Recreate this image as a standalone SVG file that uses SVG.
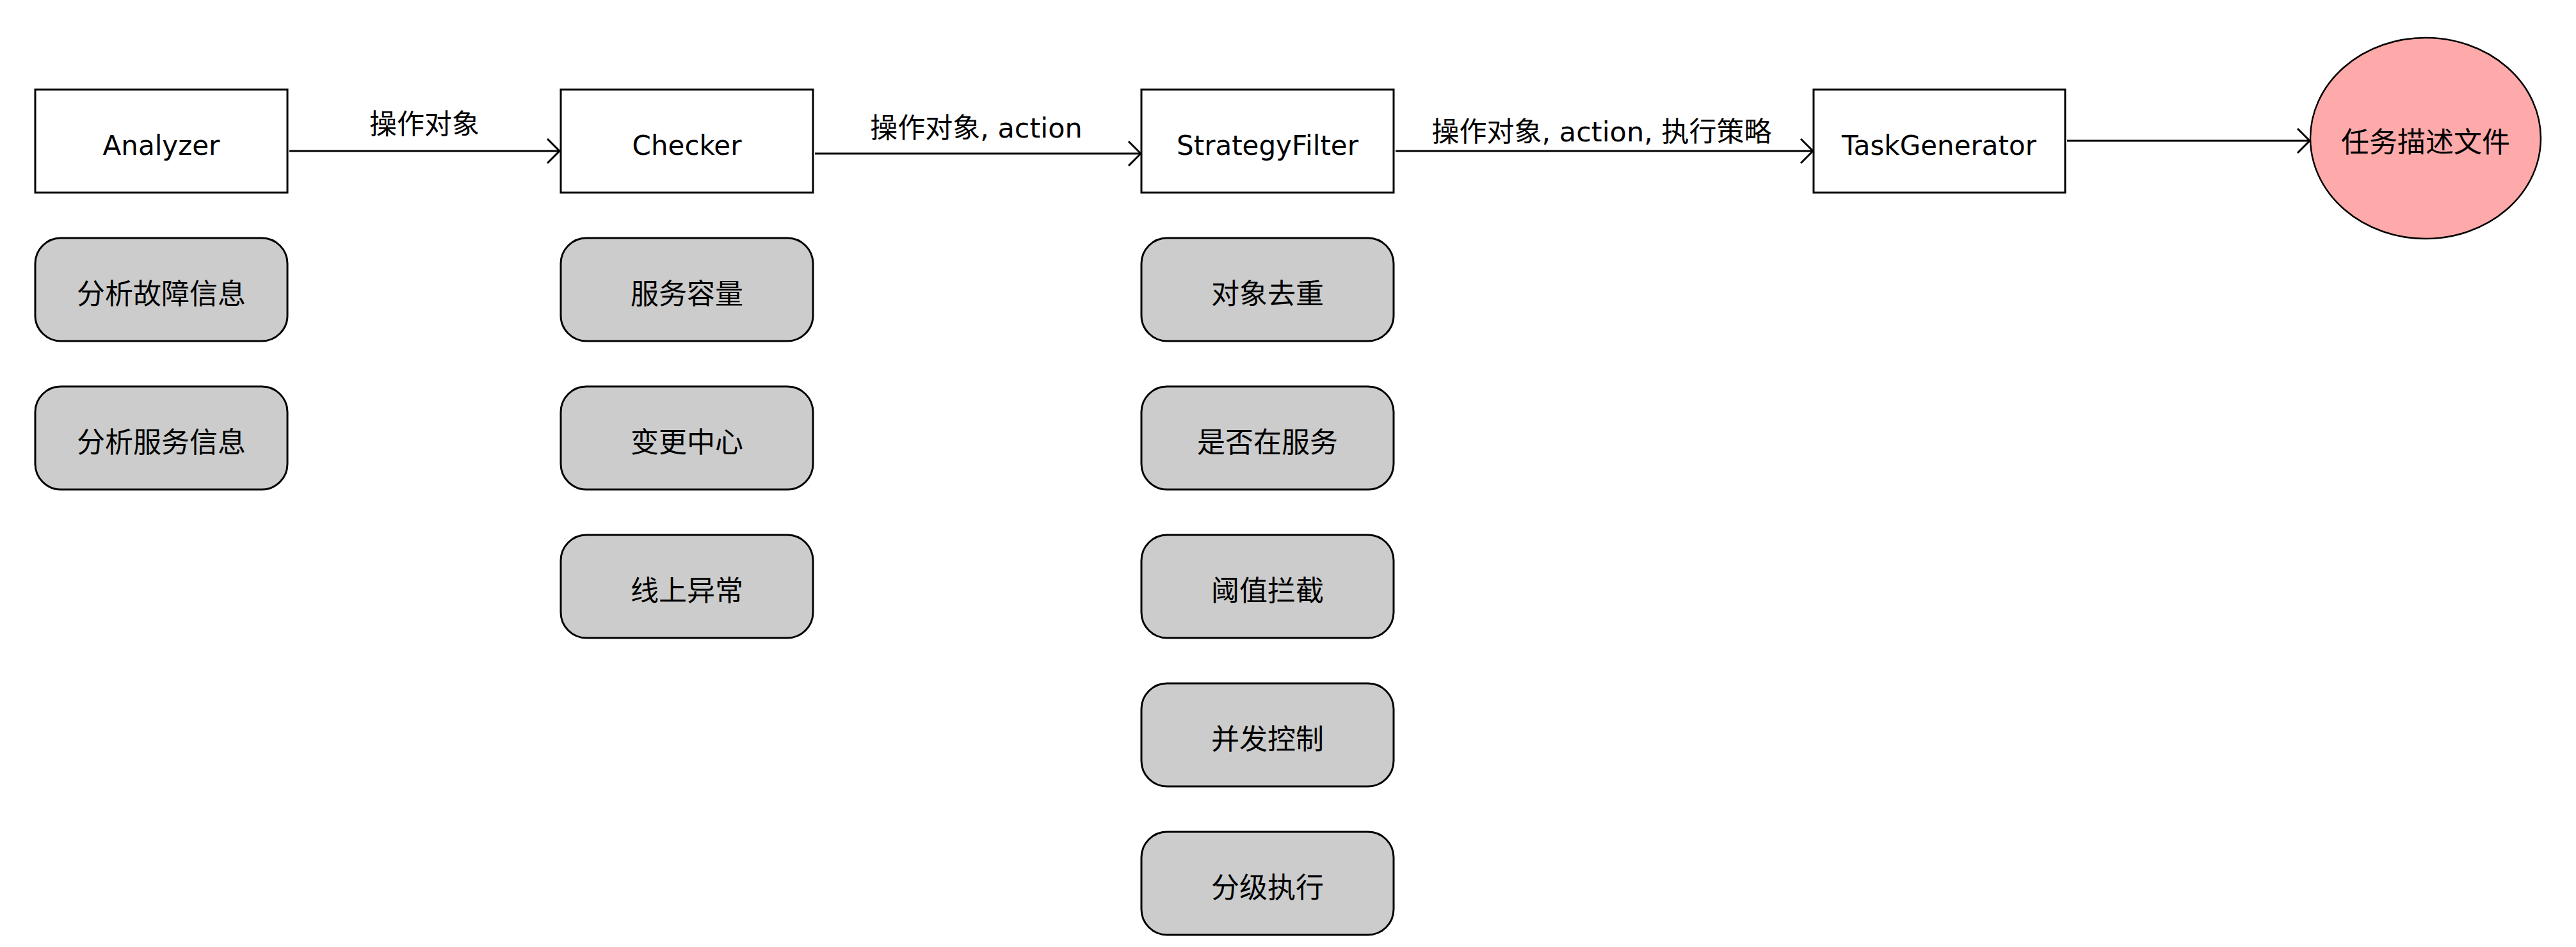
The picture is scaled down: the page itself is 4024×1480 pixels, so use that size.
<svg xmlns="http://www.w3.org/2000/svg" width="4024" height="1480" viewBox="0 0 4024 1480">
<style>
.box{fill:#ffffff;stroke:#000000;stroke-width:3}
.sub{fill:#cccccc;stroke:#000000;stroke-width:3}
.term{fill:#ffaaaa;stroke:#000000;stroke-width:2.5}
.t{font-family:"DejaVu Sans","Noto Sans CJK SC",sans-serif;font-size:42px;fill:#000000;text-anchor:middle}
.c{font-family:"Noto Sans CJK SC","DejaVu Sans",sans-serif;font-size:44px;fill:#000000;text-anchor:middle}
.lbl{font-family:"DejaVu Sans","Noto Sans CJK SC",sans-serif;font-size:43px;fill:#000000;text-anchor:middle}
.edge{fill:none;stroke:#000000;stroke-width:3}
</style>
<defs>
<marker id="arr" markerUnits="userSpaceOnUse" markerWidth="26" markerHeight="44" viewBox="0 0 26 44" refX="22" refY="22" orient="auto">
<path d="M3,3 L22,22 L3,41" fill="none" stroke="#000000" stroke-width="3"/>
</marker>
</defs>
<rect width="4024" height="1480" fill="#ffffff"/>
<g id="connectors">
<line class="edge" x1="452" y1="236" x2="874" y2="236" marker-end="url(#arr)"/>
<line class="edge" x1="1273" y1="240" x2="1782" y2="240" marker-end="url(#arr)"/>
<line class="edge" x1="2180" y1="236" x2="2832" y2="236" marker-end="url(#arr)"/>
<line class="edge" x1="3229" y1="220" x2="3608" y2="220" marker-end="url(#arr)"/>
<text class="lbl" x="663" y="209">操作对象</text>
<text class="lbl" x="1525" y="215">操作对象, action</text>
<text class="lbl" x="2502" y="221">操作对象, action, 执行策略</text>
</g>
<g id="analyzer"><rect class="box" x="55" y="140" width="394" height="161"/><text class="t" x="252" y="242">Analyzer</text></g>
<g id="checker"><rect class="box" x="876" y="140" width="394" height="161"/><text class="t" x="1073" y="242">Checker</text></g>
<g id="strategyfilter"><rect class="box" x="1783" y="140" width="394" height="161"/><text class="t" x="1980" y="242">StrategyFilter</text></g>
<g id="taskgenerator"><rect class="box" x="2833" y="140" width="393" height="161"/><text class="t" x="3029" y="242">TaskGenerator</text></g>
<g id="taskfile"><ellipse class="term" cx="3789" cy="216" rx="180" ry="157"/><text class="c" x="3789" y="238">任务描述文件</text></g>
<g id="a1"><rect class="sub" x="55" y="372" width="394" height="161" rx="40" ry="40"/><text class="c" x="252" y="475">分析故障信息</text></g>
<g id="a2"><rect class="sub" x="55" y="604" width="394" height="161" rx="40" ry="40"/><text class="c" x="252" y="707">分析服务信息</text></g>
<g id="c1"><rect class="sub" x="876" y="372" width="394" height="161" rx="40" ry="40"/><text class="c" x="1073" y="475">服务容量</text></g>
<g id="c2"><rect class="sub" x="876" y="604" width="394" height="161" rx="40" ry="40"/><text class="c" x="1073" y="707">变更中心</text></g>
<g id="c3"><rect class="sub" x="876" y="836" width="394" height="161" rx="40" ry="40"/><text class="c" x="1073" y="939">线上异常</text></g>
<g id="s1"><rect class="sub" x="1783" y="372" width="394" height="161" rx="40" ry="40"/><text class="c" x="1980" y="475">对象去重</text></g>
<g id="s2"><rect class="sub" x="1783" y="604" width="394" height="161" rx="40" ry="40"/><text class="c" x="1980" y="707">是否在服务</text></g>
<g id="s3"><rect class="sub" x="1783" y="836" width="394" height="161" rx="40" ry="40"/><text class="c" x="1980" y="939">阈值拦截</text></g>
<g id="s4"><rect class="sub" x="1783" y="1068" width="394" height="161" rx="40" ry="40"/><text class="c" x="1980" y="1171">并发控制</text></g>
<g id="s5"><rect class="sub" x="1783" y="1300" width="394" height="161" rx="40" ry="40"/><text class="c" x="1980" y="1403">分级执行</text></g>
</svg>
